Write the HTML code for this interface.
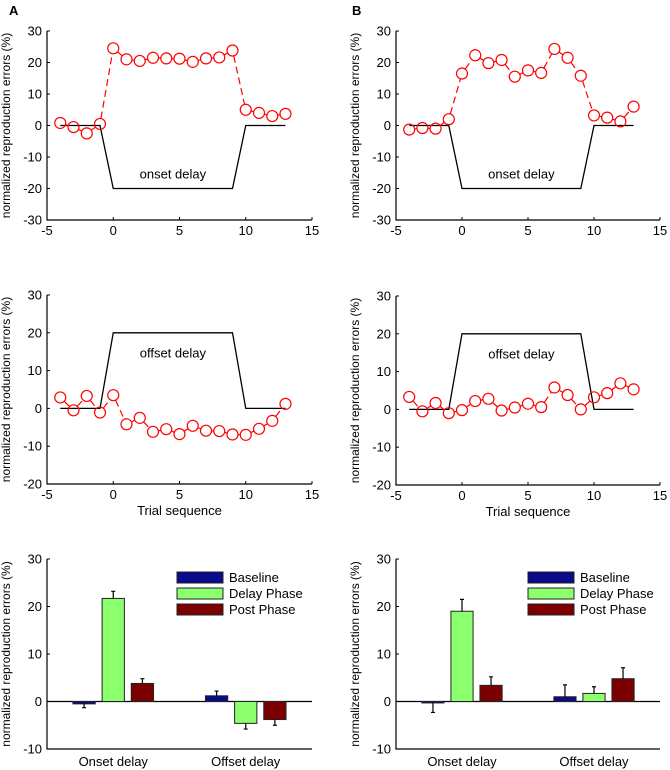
<!DOCTYPE html>
<html><head><meta charset="utf-8">
<style>
html,body{margin:0;padding:0;background:#fff;}
svg{display:block;font-family:"Liberation Sans",Arial,sans-serif;}
</style></head>
<body>
<svg id="fig" width="670" height="770" viewBox="0 0 670 770" xmlns="http://www.w3.org/2000/svg">
<text x="9" y="15" font-size="13" font-weight="bold">A</text>
<text x="352" y="15" font-size="13" font-weight="bold">B</text>
</svg>
<script>
const trials = [-4,-3,-2,-1,0,1,2,3,4,5,6,7,8,9,10,11,12,13];
const onsetA = [0.8,-0.5,-2.5,0.5,24.5,21,20.5,21.5,21.3,21.2,20.2,21.3,21.6,23.8,5,4,3,3.7];
const onsetB = [-1.3,-0.8,-1,2,16.5,22.3,19.8,20.8,15.5,17.5,16.7,24.3,21.5,15.8,3.2,2.5,1.3,6];
const offsetA = [2.9,-0.5,3.3,-1.1,3.5,-4.2,-2.5,-6.2,-5.5,-6.8,-4.6,-5.9,-6,-6.9,-7,-5.4,-3.3,1.2];
const offsetB = [3.3,-0.5,1.7,-1,-0.2,2.2,2.8,-0.3,0.5,1.5,0.6,5.8,3.8,0,3.2,4.3,6.9,5.3];
const protoX = [-4,-1,0,9,10,13];
const onsetProto = [0,0,-20,-20,0,0];
const offsetProto = [0,0,20,20,0,0];
const xTicks = [-5,0,5,10,15];
const yTicksTop = [30,20,10,0,-10,-20,-30];
const yTicksMid = [30,20,10,0,-10,-20];
const yTicksBar = [30,20,10,0,-10];
const barCategories = ['Onset delay','Offset delay'];
const barSeries = ['Baseline','Delay Phase','Post Phase'];
const barColors = ['#0a0a8c','#8cff6e','#7d0000'];
const barA = [[-0.5,21.7,3.8],[1.2,-4.6,-3.8]];
const barAerr = [[0.8,1.5,1.0],[1.0,1.2,1.2]];
const barB = [[-0.3,19,3.4],[1.0,1.7,4.8]];
const barBerr = [[2.0,2.5,1.8],[2.5,1.4,2.3]];

const NS='http://www.w3.org/2000/svg';
const svg=document.getElementById('fig');
function mk(tag,attrs,parent){const e=document.createElementNS(NS,tag);for(const k in attrs)e.setAttribute(k,attrs[k]);(parent||svg).appendChild(e);return e;}
function lin(d0,d1,r0,r1){return v=>r0+(v-d0)*(r1-r0)/(d1-d0);}

function axes(g,x0,x1,y0,y1,ymin,ymax,yt,xs,xt,xlabel){
  const ys=lin(ymin,ymax,y1,y0);
  const ax=mk('path',{d:`M${x0},${y0}V${y1}H${x1}`,stroke:'#000','stroke-width':1.2,fill:'none'},g);
  
  
  yt.forEach(v=>{
    const t=mk('text',{x:x0-5,y:ys(v)+4.5,'font-size':13,'text-anchor':'end'},g);t.textContent=v;
    
    
    mk('line',{x1:x0,x2:x0+3,y1:ys(v),y2:ys(v),stroke:'#000'},g);
  });
  if(xt){xt.forEach(v=>{
    const t=mk('text',{x:xs(v),y:y1+15,'font-size':13,'text-anchor':'middle'},g);t.textContent=v;
    
    
    mk('line',{x1:xs(v),x2:xs(v),y1:y1,y2:y1-3,stroke:'#000'},g);
  });}
  const cy=(y0+y1)/2, tx=x0-37;
  const yl=mk('text',{x:tx,y:cy,'font-size':12,'text-anchor':'middle',transform:`rotate(-90 ${tx} ${cy})`},g);
  yl.textContent='normalized reproduction errors (%)';
  
  
  if(xlabel){const xl=mk('text',{x:(x0+x1)/2,y:y1+31,'font-size':13,'text-anchor':'middle'},g);xl.textContent=xlabel;
    
    }
  return ys;
}

function linePanel(name,x0,x1,y0,y1,ymin,ymax,yt,data,proto,label,labelY,xlabel){
  const g=mk('g',{});
  
  
  const xs=lin(-5,15,x0,x1);
  const ys=axes(g,x0,x1,y0,y1,ymin,ymax,yt,xs,xTicks,xlabel);
  const pl=mk('polyline',{points:protoX.map((x,i)=>xs(x)+','+ys(proto[i])).join(' '),fill:'none',stroke:'#000','stroke-width':1.3},g);
  
  
  const lt=mk('text',{x:xs(4.5),y:ys(labelY)+4,'font-size':13,'text-anchor':'middle'},g);lt.textContent=label;
  
  
  const r=5.5;
  for(let i=0;i<trials.length-1;i++){
    const ax=xs(trials[i]),ay=ys(data[i]),bx=xs(trials[i+1]),by=ys(data[i+1]);
    const dx=bx-ax,dy=by-ay,L=Math.hypot(dx,dy);if(L<=2*r)continue;
    const s=mk('line',{x1:ax+dx*r/L,y1:ay+dy*r/L,x2:bx-dx*r/L,y2:by-dy*r/L,stroke:'#f00','stroke-width':1.2,'stroke-dasharray':'7,4'},g);
    
    
  }
  trials.forEach((t,i)=>{
    const c=mk('circle',{cx:xs(t),cy:ys(data[i]),r:r,fill:'none',stroke:'#f00','stroke-width':1.2},g);
    
    
  });
}

function barPanel(name,x0,x1,y0,y1,vals,errs,legX){
  const g=mk('g',{});
  
  
  const xs=lin(0.5,2.5,x0,x1);
  const ys=axes(g,x0,x1,y0,y1,-10,30,yTicksBar,xs,null,null);
  mk('line',{x1:x0,x2:x1,y1:ys(0),y2:ys(0),stroke:'#000','stroke-width':1.2},g);
  const off=[-0.22,0,0.22],w=0.168;
  barCategories.forEach((c,ci)=>{
    const t=mk('text',{x:xs(ci+1),y:y1+17,'font-size':13,'text-anchor':'middle'},g);t.textContent=c;
    
    
    vals[ci].forEach((v,si)=>{
      const cx=xs(ci+1+off[si]),l=xs(ci+1+off[si]-w/2),rr=xs(ci+1+off[si]+w/2);
      const top=Math.min(ys(v),ys(0)),h=Math.abs(ys(v)-ys(0));
      const b=mk('rect',{x:l,y:top,width:rr-l,height:Math.max(h,1),fill:barColors[si],stroke:'#222','stroke-width':1},g);
      
      
      const e=v>=0?v+errs[ci][si]:v-errs[ci][si];
      const eb=mk('path',{d:`M${cx},${ys(v)}V${ys(e)}M${cx-2},${ys(e)}H${cx+2}`,stroke:'#000','stroke-width':1.2},g);
      
      
    });
  });
  barSeries.forEach((s,si)=>{
    const y=y0+13+si*16;
    const r=mk('rect',{x:legX,y:y,width:46,height:11,fill:barColors[si],stroke:'#222','stroke-width':1},g);
    
    
    const t=mk('text',{x:legX+52,y:y+10,'font-size':13},g);t.textContent=s;
    
    
  });
}

linePanel('onset-chart-a',47,312,31,220,-30,30,yTicksTop,onsetA,onsetProto,'onset delay',-15.5,null);
linePanel('onset-chart-b',396,660,31,220,-30,30,yTicksTop,onsetB,onsetProto,'onset delay',-15.5,null);
linePanel('offset-chart-a',47,312,295,484,-20,30,yTicksMid,offsetA,offsetProto,'offset delay',14.5,'Trial sequence');
linePanel('offset-chart-b',396,660,296,485,-20,30,yTicksMid,offsetB,offsetProto,'offset delay',14.5,'Trial sequence');
barPanel('bar-chart-a',47,312,559,749,barA,barAerr,177);
barPanel('bar-chart-b',396,660,559,749,barB,barBerr,528);
</script>
</body></html>
